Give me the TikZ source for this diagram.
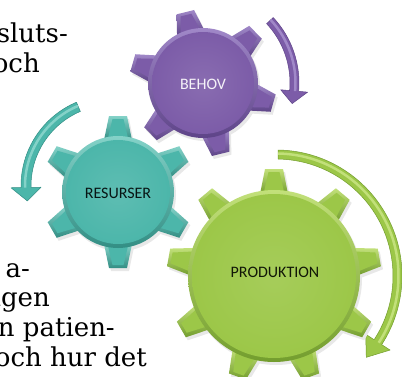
\documentclass[tikz,border=0pt]{standalone}
\usepackage{fontspec}
\setmainfont{DejaVu Serif}
\newfontfamily\gearfont{Carlito}
\usetikzlibrary{calc}
\definecolor{purBase}{HTML}{7C5CA8}
\definecolor{purLight}{HTML}{A088C8}
\definecolor{purDark}{HTML}{5E4488}
\definecolor{teaBase}{HTML}{4CB6AA}
\definecolor{teaLight}{HTML}{84D2C8}
\definecolor{teaDark}{HTML}{338E84}
\definecolor{greBase}{HTML}{9CC748}
\definecolor{greLight}{HTML}{C2E07A}
\definecolor{greDark}{HTML}{739D2E}
% gear silhouette: cx cy n offset rb rt style
\newcommand{\gearsil}[7]{%
 \pgfmathsetmacro{\gstep}{360/#3}%
 \begin{scope}[shift={(#1,#2)}]
 \foreach \i in {1,...,#3}{%
   \pgfmathsetmacro{\ang}{#4+(\i-1)*\gstep}%
   \fill[#7] ($(\ang:{#5-4})+(\ang-90:14)$) -- ($(\ang:#6)+(\ang-90:9)$) -- ($(\ang:#6)+(\ang+90:9)$) -- ($(\ang:{#5-4})+(\ang+90:14)$) -- cycle;}
 \fill[#7] (0,0) circle[radius=#5];
 \end{scope}}
% gear: cx cy n offset rb rt colorprefix
\newcommand{\mygear}[7]{%
 \pgfmathsetmacro{\gstep}{360/#3}%
 \begin{scope}[shift={(#1,#2)}]
 \foreach \i in {1,...,#3}{%
   \pgfmathsetmacro{\ang}{#4+(\i-1)*\gstep}%
   \shade[top color=#7Light, bottom color=#7Dark] ($(\ang:{#5-4})+(\ang-90:14)$) -- ($(\ang:#6)+(\ang-90:9)$) -- ($(\ang:#6)+(\ang+90:9)$) -- ($(\ang:{#5-4})+(\ang+90:14)$) -- cycle;
   \fill[#7Base] ($(\ang:{#5-4})+(\ang-90:10.5)$) -- ($(\ang:{#6-3})+(\ang-90:5.5)$) -- ($(\ang:{#6-3})+(\ang+90:5.5)$) -- ($(\ang:{#5-4})+(\ang+90:10.5)$) -- cycle;}
 \shade[top color=#7Light, bottom color=#7Dark] (0,0) circle[radius=#5];
 \shade[inner color=#7Base!90!white, outer color=#7Base] (0,0) circle[radius={#5-4}];
 \end{scope}}
% curved arrow: cx cy rin rout a1 a2 atip hx colorprefix
\newcommand{\myarrow}[9]{%
 \begin{scope}[shift={(#1,#2)}]
  \fill[#9Base, draw=#9Dark, line width=0.5pt, line join=round] (#5:#4) arc[start angle=#5, end angle=#6, radius=#4] -- (#6:{#4+#8}) -- (#7:{(#3+#4)/2}) -- (#6:{#3-#8}) -- (#6:#3) arc[start angle=#6, end angle=#5, radius=#3] -- cycle;
  \draw[#9Light, line width=2.5pt] (#5:{(#3+#4)/2+1}) arc[start angle=#5, end angle=#6, radius={(#3+#4)/2+1}];
 \end{scope}}
\begin{document}
\begin{tikzpicture}[x=1pt,y=1pt,
  lefttext/.style={anchor=base east, inner sep=0pt, font=\fontsize{26}{30}\selectfont, text=black},
  gearlabel/.style={font=\gearfont\fontsize{16}{19}\selectfont, inner sep=0pt}]
\useasboundingbox (0,0) rectangle (402,376);
\clip (0,0) rectangle (402,376);
\fill[white] (0,0) rectangle (402,376);
% left text fragments
\node[lefttext] (t1) at (68,334) {sluts-};
\node[lefttext] (t2) at (40,304) {och};
\node[lefttext] (t3) at (30,99) {a-};
\node[lefttext] (t4) at (50,70) {ngen};
\node[lefttext] (t5) at (115,40) {n patien-};
\node[lefttext] (t6) at (147,10) {och hur det};
% arrows
\myarrow{203}{293}{87}{96}{43}{-5}{-13}{9}{pur}
\myarrow{112}{190}{81}{91}{113}{181}{190}{10}{tea}
\myarrow{276}{100}{117}{126}{89}{-33}{-42}{10}{gre}
% shadows
\gearsil{120}{181}{6}{90}{56}{76}{black!9}
\gearsil{205}{290}{6}{104}{55}{73}{black!9}
\gearsil{276}{97}{9}{90}{86}{107}{black!9}
% gears
\mygear{118}{184}{6}{90}{56}{76}{tea}
\mygear{203}{293}{6}{104}{55}{73}{pur}
\mygear{274}{100}{9}{90}{86}{107}{gre}
% labels
\node[gearlabel, text=white!92!purBase] (behov) at (203,292) {BEHOV};
\node[gearlabel, text=black!85!teaDark] (resurser) at (118,183) {RESURSER};
\node[gearlabel, text=black!85!greDark] (produktion) at (275,104) {PRODUKTION};
\end{tikzpicture}
\end{document}
